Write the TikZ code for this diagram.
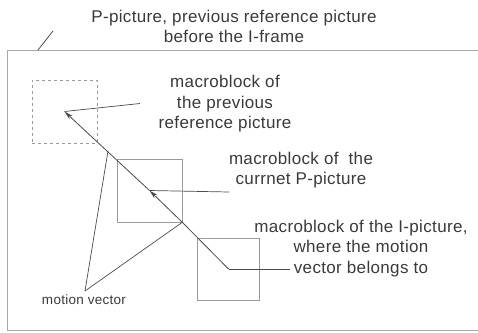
\documentclass[tikz,border=0pt]{standalone}
\usepackage{fontspec}
\setmainfont{Liberation Sans}[LetterSpace=2]
\newfontfamily\smallfam{Liberation Sans}[LetterSpace=2]
\usetikzlibrary{arrows.meta}
\definecolor{txt}{HTML}{3A3A3A}
\definecolor{ln}{HTML}{4A4A4A}
\definecolor{bx}{HTML}{9A9A9A}
\definecolor{fr}{HTML}{A8A8A8}
\begin{document}
\begin{tikzpicture}[x=1pt,y=-1pt,
  lbl/.style={align=center,text=txt,font=\fontsize{17}{20.5}\selectfont,inner sep=0pt},
  small/.style={text=txt,font=\smallfam\fontsize{13.5}{16}\selectfont,inner sep=0pt},
  mb/.style={draw=bx,line width=0.6pt,minimum width=65pt,minimum height=63pt,inner sep=0pt},
  vec/.style={draw=ln,line width=0.8pt},
  ptr/.style={draw=ln,line width=0.7pt},
  arr/.style={vec,-{Stealth[length=9pt,width=4.5pt]}}]
\useasboundingbox (0,0) rectangle (478,332);
% frame
\draw[fr,line width=0.8pt] (480,50) -- (7,50) -- (7,330) -- (480,330);
% macroblocks
\node[mb,dashed] (prev) at (64.5,111.5) {};
\node[mb] (pmb) at (149.5,190.5) {};
\node[mb,minimum width=62pt,minimum height=62pt] (imb) at (228.5,269) {};
% labels
\node[lbl] (title) at (234,26.5) {P-picture, previous reference picture\\before the I-frame};
\node[lbl] (lprev) at (225,104) {macroblock of\\the previous\\reference picture};
\node[lbl] (lp) at (301,170) {macroblock of\ \ the\\currnet P-picture};
\node[lbl] (li) at (361,248.5) {macroblock of the I-picture,\\where the motion\\vector belongs to};
\node[small] (lmv) at (84,300) {motion vector};
% coordinates
\coordinate (tp1) at (38,50);
\coordinate (tp2) at (53,31);
\coordinate (lprevp) at (140,103.5);
\coordinate (lpp) at (229,192);
\coordinate (lip) at (290,269);
\coordinate (mvtop) at (85,291);
\coordinate (mvon) at (108,151);
% title pointer
\draw[ptr,draw=txt] (tp1) -- (tp2);
% motion vector path
\draw[vec] (imb.center) -- (pmb.south east);
\draw[arr] (pmb.south east) -- (pmb.center);
\draw[arr] (pmb.center) -- (prev.center);
% pointers
\draw[ptr] (lprevp) -- (prev.center);
\draw[ptr] (lpp) -- (pmb.center);
\draw[ptr] (lip) -- (imb.center);
\draw[ptr] (mvtop) -- (mvon);
\draw[ptr] (mvtop) -- (pmb.south east);
\end{tikzpicture}
\end{document}
